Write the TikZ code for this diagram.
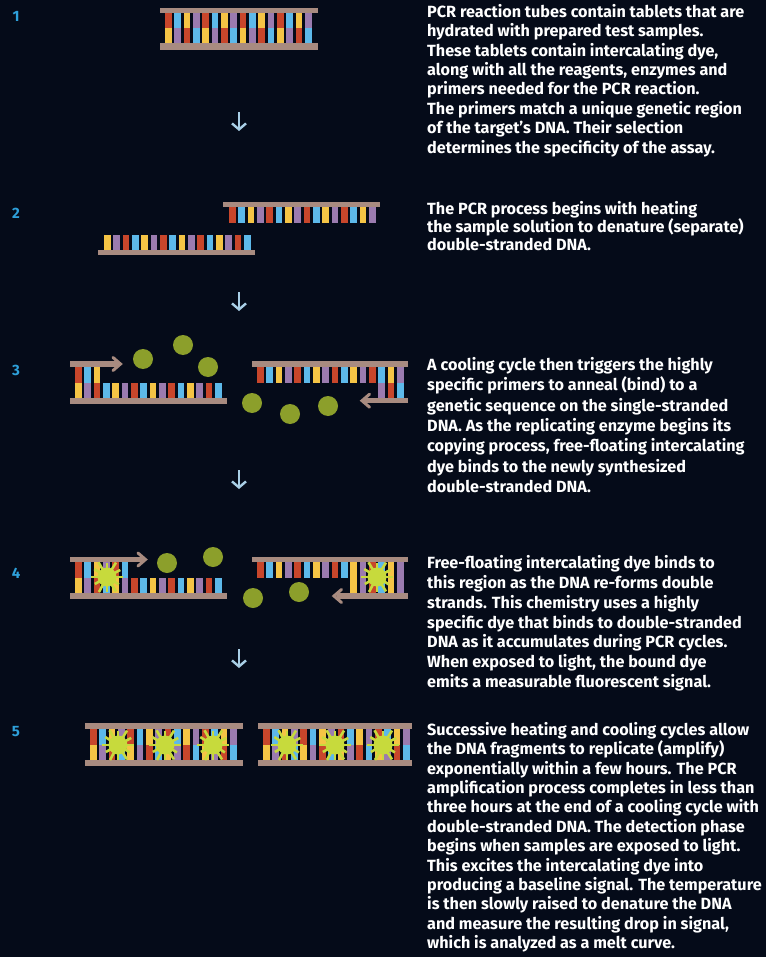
\documentclass[tikz,border=0pt]{standalone}
\usepackage{fontspec}
\setmainfont{Fira Sans}
\usetikzlibrary{arrows.meta}

\definecolor{bgcol}{HTML}{050B19}
\definecolor{bbcol}{HTML}{A88B80}
\definecolor{colR}{HTML}{C8462B}
\definecolor{colB}{HTML}{5DB9EA}
\definecolor{colY}{HTML}{F5C445}
\definecolor{colP}{HTML}{9B7BAF}
\definecolor{dotcol}{HTML}{8C9F2B}
\definecolor{dyecol}{HTML}{C7DA3C}
\definecolor{numcol}{HTML}{2EA0DA}
\definecolor{flowcol}{HTML}{A9CFE6}

% a row of bases: start x, y from, y to, list of colour letters
\newcommand{\baserow}[4]{%
  \foreach \bc [count=\bi from 0] in {#4}{%
    \fill[col\bc] ({#1+9.33*\bi},#2) rectangle ({#1+9.33*\bi+6.8},#3);}}

% intercalating dye bound between base pairs
\newcommand{\dyeblob}[1]{%
  \fill[dyecol] (#1) circle[radius=9.5pt];
  \foreach \ang/\len in {0/16,32/14,58/17,90/15,118/17,150/14,180/16,212/15,240/17,270/14,302/17,332/15}{%
    \draw[dyespike] (#1) ++(\ang:8) -- ++(\ang:{\len-8});}}

\tikzset{
  backbone/.style={fill=bbcol},
  primer/.style={draw=bbcol,line width=5.5pt},
  primerhead/.style={draw=bbcol,line width=3pt,line cap=round,line join=miter},
  freedye/.style={fill=dotcol},
  dyespike/.style={draw=dyecol,line width=2.6pt},
  stepnum/.style={text=numcol,font=\bfseries\fontsize{15}{15}\selectfont,inner sep=0},
  flow/.style={draw=flowcol,line width=2.4pt,-{Straight Barb[length=6pt,width=14pt]}},
  desc/.style={text=white,anchor=north west,inner sep=0,align=left,
    font=\bfseries\fontsize{16.2}{#1}\selectfont},
  desc/.default=19.4,
}

\begin{document}
\begin{tikzpicture}[x=1pt,y=-1pt]
\useasboundingbox (0,0) rectangle (766,957);
\fill[bgcol] (0,0) rectangle (766,957);

% step numbers
\node[stepnum] (n1) at (16,16) {1};
\node[stepnum] (n2) at (16,213) {2};
\node[stepnum] (n3) at (16,370) {3};
\node[stepnum] (n4) at (16,573) {4};
\node[stepnum] (n5) at (16,732) {5};

% ---- step 1: intact double strand
\fill[backbone] (160,8) rectangle (318,13.3);
\baserow{165}{13.3}{28}{R,B,Y,P,R,B,Y,P,R,B,Y,P,R,B,Y,P}
\baserow{165}{28}{42.7}{Y,P,R,B,Y,P,R,B,Y,P,R,B,Y,P,R,B}
\fill[backbone] (160,42.7) rectangle (318,50);

% ---- step 2: denatured single strands
\fill[backbone] (223,202.5) rectangle (380,207.5);
\baserow{229}{207.5}{223}{R,B,Y,P,R,B,Y,P,R,B,Y,P,R,B,Y,P}
\baserow{104}{235}{250}{Y,P,R,B,Y,P,R,B,Y,P,R,B,Y,P,R,B}
\fill[backbone] (98,250) rectangle (255,255.5);

% ---- step 3: primers anneal
\draw[primer] (70,364) -- (118,364);
\draw[primerhead] (113,357.5) -- (120.5,364) -- (113,370.5);
\baserow{75}{367}{382.5}{R,B,Y}
\baserow{75}{382.5}{398}{Y,P,R}
\baserow{103}{382.5}{398}{B,Y,P,R,B,Y,P,R,B,Y,P,R,B}
\fill[backbone] (70,398) rectangle (227,403.5);

\fill[backbone] (252,361) rectangle (408,367);
\baserow{257}{367}{382.5}{R,B,Y,P,R,B,Y,P,R,B,Y,P,R,B,Y,P}
\baserow{378.3}{382.5}{398}{P,R,B}
\draw[primer] (408,400.7) -- (363,400.7);
\draw[primerhead] (369.5,394.2) -- (362,400.7) -- (369.5,407.2);

\fill[freedye] (143,359) circle[radius=10pt];
\fill[freedye] (183,345) circle[radius=10pt];
\fill[freedye] (208,367) circle[radius=10pt];
\fill[freedye] (252,403) circle[radius=10pt];
\fill[freedye] (290,414) circle[radius=10pt];
\fill[freedye] (328,406) circle[radius=10pt];

% ---- step 4: dye binds the new double strands
\draw[primer] (70,559.5) -- (143,559.5);
\draw[primerhead] (138,553) -- (145.5,559.5) -- (138,566);
\baserow{75}{562}{577.5}{R,B,Y,P,R,B}
\baserow{75}{577.5}{593}{Y,P,R,B,Y,P}
\baserow{131}{577.5}{593}{R,B,Y,P,R,B,Y,P,R,B}
\fill[backbone] (70,593) rectangle (227,599);
\dyeblob{107,577}

\fill[backbone] (252,557) rectangle (408,562);
\baserow{257}{562}{577.5}{R,B,Y,P,R,B,Y,P,R,B,Y,P,R,B,Y,P}
\baserow{350.3}{577.5}{593}{Y,P,R,B,Y,P}
\draw[primer] (408,596) -- (337,596);
\draw[primerhead] (341.5,589.5) -- (334,596) -- (341.5,602.5);
\dyeblob{377,577}

\fill[freedye] (167,563) circle[radius=10pt];
\fill[freedye] (213,557) circle[radius=10pt];
\fill[freedye] (253,598) circle[radius=10pt];
\fill[freedye] (299,592) circle[radius=10pt];

% ---- step 5: amplified, dye-loaded copies
\fill[backbone] (85,723) rectangle (243,729);
\baserow{90}{729}{744.5}{R,B,Y,P,R,B,Y,P,R,B,Y,P,R,B,Y,P}
\baserow{90}{744.5}{760}{Y,P,R,B,Y,P,R,B,Y,P,R,B,Y,P,R,B}
\fill[backbone] (85,760) rectangle (243,766);
\dyeblob{118,745}
\dyeblob{165,745}
\dyeblob{213,745}

\fill[backbone] (258,723) rectangle (412,729);
\baserow{263}{729}{744.5}{R,B,Y,P,R,B,Y,P,R,B,Y,P,R,B,Y,P}
\baserow{263}{744.5}{760}{Y,P,R,B,Y,P,R,B,Y,P,R,B,Y,P,R,B}
\fill[backbone] (258,760) rectangle (412,766);
\dyeblob{287,745}
\dyeblob{335,745}
\dyeblob{383,745}

% ---- flow arrows between steps
\coordinate (f1a) at (239,112); \coordinate (f1b) at (239,131);
\coordinate (f2a) at (239,292); \coordinate (f2b) at (239,311);
\coordinate (f3a) at (239,470); \coordinate (f3b) at (239,489);
\coordinate (f4a) at (239,649); \coordinate (f4b) at (239,668);
\draw[flow] (f1a) -- (f1b);
\draw[flow] (f2a) -- (f2b);
\draw[flow] (f3a) -- (f3b);
\draw[flow] (f4a) -- (f4b);

% ---- descriptions
\node[desc] (t1) at (427,4) {PCR reaction tubes contain tablets that are\\
hydrated with prepared test samples.\\
These tablets contain intercalating dye,\\
along with all the reagents, enzymes and\\
primers needed for the PCR reaction.\\
The primers match a unique genetic region\\
of the target's DNA. Their selection\\
determines the specificity of the assay.};

\node[desc=18] (t2) at (427,201) {The PCR process begins with heating\\
the sample solution to denature (separate)\\
double-stranded DNA.};

\node[desc=20.4] (t3) at (427,357) {A cooling cycle then triggers the highly\\
specific primers to anneal (bind) to a\\
genetic sequence on the single-stranded\\
DNA. As the replicating enzyme begins its\\
copying process, free-floating intercalating\\
dye binds to the newly synthesized\\
double-stranded DNA.};

\node[desc=19.9] (t4) at (427,555) {Free-floating intercalating dye binds to\\
this region as the DNA re-forms double\\
strands. This chemistry uses a highly\\
specific dye that binds to double-stranded\\
DNA as it accumulates during PCR cycles.\\
When exposed to light, the bound dye\\
emits a measurable fluorescent signal.};

\node[desc] (t5) at (427,722) {Successive heating and cooling cycles allow\\
the DNA fragments to replicate (amplify)\\
exponentially within a few hours. The PCR\\
amplification process completes in less than\\
three hours at the end of a cooling cycle with\\
double-stranded DNA. The detection phase\\
begins when samples are exposed to light.\\
This excites the intercalating dye into\\
producing a baseline signal. The temperature\\
is then slowly raised to denature the DNA\\
and measure the resulting drop in signal,\\
which is analyzed as a melt curve.};
\end{tikzpicture}
\end{document}
